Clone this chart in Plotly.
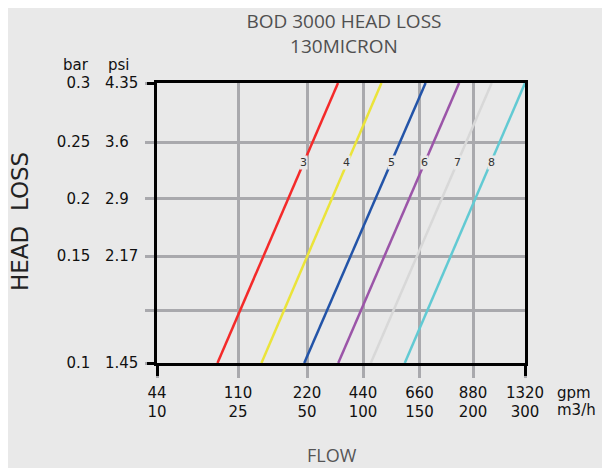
import numpy as np
import plotly.graph_objects as go

# ---------------- data ----------------
flow_gpm_ticks = [44, 110, 220, 440, 660, 880, 1320]
flow_m3h_ticks = [10, 25, 50, 100, 150, 200, 300]
bar_ticks = [0.1, 0.15, 0.2, 0.25, 0.3]
psi_ticks = ["1.45", "2.17", "2.9", "3.6", "4.35"]
bar_labels = ["0.1", "0.15", "0.2", "0.25", "0.3"]

models = ["3", "4", "5", "6", "7", "8"]
flow_at_low = [21.2, 33.5, 49.0, 77.9, 106.9, 136.9]     # m3/h at 0.1 bar
flow_at_high = [77.7, 116.3, 155.6, 187.0, 236.0, 300.0]  # m3/h at 0.3 bar
loss_span = [0.1, 0.3]                                     # bar
label_flow = [48.7, 85.4, 125.3, 154.6, 185.2, 236.5]     # m3/h
label_loss = 0.2315                                        # bar
colors = ["#f42a2a", "#ebe43a", "#2354a8", "#9b55a8", "#d8d8d8", "#62cad3"]

title_lines = ["BOD 3000 HEAD LOSS", "130MICRON"]

# ---------------- chart geometry (hand-drawn, non-uniform scales) ----------------
X_POS = [0, 81, 150, 206, 262.6, 316, 368]      # axis positions of flow ticks
Y_POS = [0, 107, 164.4, 221, 280]               # axis positions of bar ticks
Y_EXTRA_GRID = 52.7                             # unlabeled grid line

def fx(f):
    return np.interp(f, flow_m3h_ticks, X_POS)

def fy(b):
    return np.interp(b, bar_ticks, Y_POS)

BG = "#e9e9e9"
GRID = "#a9a9ad"
TICKFONT = dict(family="DejaVu Sans", size=15, color="#111111")
TITLEFONT = dict(family="Open Sans", size=19, color="#505050")

fig = go.Figure()
for m, a, b, c in zip(models, flow_at_low, flow_at_high, colors):
    fig.add_trace(go.Scatter(
        x=fx([a, b]), y=fy(loss_span), mode="lines",
        line=dict(color=c, width=2.5), name=m, showlegend=False,
        hoverinfo="skip", cliponaxis=False))

# dummy trace for overlay axes (black end ticks)
fig.add_trace(go.Scatter(x=[0], y=[0], xaxis="x2", yaxis="y2", mode="markers",
                         marker=dict(opacity=0), showlegend=False, hoverinfo="skip"))

y_tickvals = [Y_POS[0], Y_EXTRA_GRID] + Y_POS[1:]
y_ticktext = [bar_labels[0], ""] + bar_labels[1:]

def px_x(px):   # screen x -> paper x
    return (px - 157) / 368.0

def px_y(py):   # screen y -> paper y
    return (362.7 - py) / 280.0

def note(text, x, y, xanchor="center", yanchor="middle", font=TICKFONT, **kw):
    return dict(x=x, y=y, xref="paper", yref="paper", text=text, xanchor=xanchor,
                yanchor=yanchor, showarrow=False, font=font, **kw)

annotations = []
for p, b in zip(psi_ticks, bar_ticks):
    annotations.append(dict(x=px_x(103.3), y=fy(b), xref="paper", yref="y", text=p,
                            xanchor="left", yanchor="middle", showarrow=False,
                            font=TICKFONT))
annotations.append(note("bar", px_x(90.5), px_y(65), xanchor="right"))
annotations.append(note("psi", px_x(106), px_y(65), xanchor="left"))
annotations.append(note("gpm", px_x(555), px_y(393), xanchor="left"))
annotations.append(note("m3/h", px_x(555), px_y(410), xanchor="left"))
for m, f in zip(models, label_flow):
    annotations.append(dict(x=fx(f), y=fy(label_loss), xref="x", yref="y", text=m,
                            xanchor="center", yanchor="middle",
                            showarrow=False, bgcolor=BG, borderpad=0,
                            font=dict(family="DejaVu Sans", size=11, color="#333333")))
annotations.append(note("HEAD\u00a0\u00a0LOSS", px_x(20), px_y(221.7), textangle=-90,
                        font=dict(family="DejaVu Sans", size=23, color="#222222")))
annotations.append(note("FLOW", px_x(331.7), px_y(455),
                        font=dict(family="Open Sans", size=18, color="#555555")))

fig.update_layout(
    width=610, height=468,
    margin=dict(l=149, r=93, t=75, b=113),
    paper_bgcolor=BG, plot_bgcolor=BG,
    title=dict(text="<br>".join(title_lines), x=px_x(344), xref="paper", xanchor="center",
               y=1 - 20 / 468, yref="container", yanchor="middle", font=TITLEFONT),
    xaxis=dict(range=[0, X_POS[-1]], tickmode="array", tickvals=X_POS,
               ticktext=[f"{g}<br>{m}" for g, m in zip(flow_gpm_ticks, flow_m3h_ticks)],
               showgrid=True, gridcolor=GRID, gridwidth=2.5,
               ticks="outside", ticklen=12, tickwidth=2.5, tickcolor=GRID,
               showline=True, linecolor="black", linewidth=2.5, mirror=True,
               zeroline=False, tickfont=TICKFONT, ticklabelstandoff=2, fixedrange=True),
    yaxis=dict(range=[0, Y_POS[-1]], tickmode="array", tickvals=y_tickvals,
               ticktext=y_ticktext,
               showgrid=True, gridcolor=GRID, gridwidth=2.5,
               ticks="outside", ticklen=9, tickwidth=2.5, tickcolor=GRID,
               showline=True, linecolor="black", linewidth=2.5, mirror=True,
               zeroline=False, tickfont=TICKFONT, ticklabelstandoff=52, fixedrange=True),
    xaxis2=dict(overlaying="x", anchor="y2", side="bottom", range=[0, X_POS[-1]],
                tickmode="array", tickvals=[X_POS[0], X_POS[-1]], ticks="outside",
                ticklen=12, tickwidth=2.5, tickcolor="black", showticklabels=False,
                showgrid=False, showline=False, zeroline=False, fixedrange=True),
    yaxis2=dict(overlaying="y", anchor="x2", side="left", range=[0, Y_POS[-1]],
                tickmode="array", tickvals=[Y_POS[0], Y_POS[-1]], ticks="outside",
                ticklen=9, tickwidth=2.5, tickcolor="black", showticklabels=False,
                showgrid=False, showline=False, zeroline=False, fixedrange=True),
    annotations=annotations,
    showlegend=False,
)

fig.write_html("out.html")
